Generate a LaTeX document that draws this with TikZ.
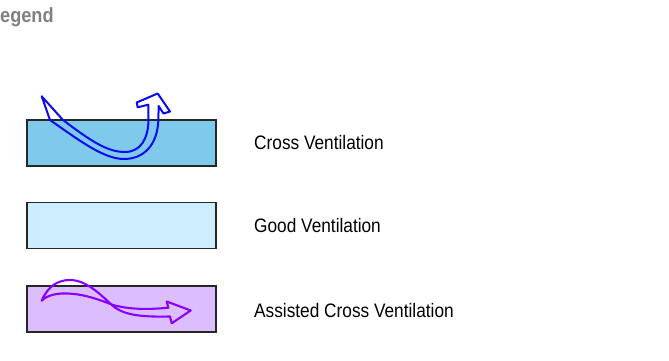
\documentclass[tikz,border=0pt]{standalone}
\usepackage{fontspec}
\setmainfont{Liberation Sans}
\newfontfamily\lblfont[FakeStretch=0.885]{Liberation Sans}
\begin{document}
\begin{tikzpicture}[x=1pt,y=-1pt,
  legbox/.style={draw=black!85, line width=1.3pt, minimum width=189pt, minimum height=46pt, inner sep=0pt},
  lbl/.style={anchor=base west, inner sep=0pt, font=\lblfont\fontsize{19.5}{22}\selectfont, text=black},
  bluearrow/.style={draw={rgb,255:red,10;green,10;blue,240}, line width=2pt, line join=round},
  purplearrow/.style={draw={rgb,255:red,136;green,0;blue,255}, line width=2.1pt, line join=round, line cap=round}]
\definecolor{crossfill}{RGB}{127,201,236}
\definecolor{goodfill}{RGB}{204,238,255}
\definecolor{assistfill}{RGB}{220,190,255}
\useasboundingbox (0,0) rectangle (669,361);
% title
\node[anchor=base west, inner sep=0pt, font=\lblfont\bfseries\fontsize{20.5}{22}\selectfont, text=black!50] (title) at (0,22.7) {egend};
% boxes
\node[legbox, fill=crossfill] (b1) at (121.5,143) {};
\node[legbox, fill=goodfill] (b2) at (121.5,225.8) {};
\node[legbox, fill=assistfill] (b3) at (121.5,309) {};
% labels
\node[lbl] (l1) at (254,149.7) {Cross Ventilation};
\node[lbl] (l2) at (254,232.7) {Good Ventilation};
\node[lbl] (l3) at (254,317.7) {Assisted Cross Ventilation};
% cross ventilation arrow
\draw[bluearrow] (41.7,96.3) -- (63,120)
  .. controls (92,142) and (108,152) .. (125,152)
  .. controls (141,152) and (148.5,138) .. (148.5,119)
  -- (148.3,104.7) -- (137.7,107.3) -- (136.7,102.5) -- (157.7,93.5) -- (170,111.5) -- (163.5,113.5) -- (158.6,106)
  -- (158.4,119.5)
  .. controls (157.5,146) and (143,159) .. (124,159)
  .. controls (104,159) and (80,141) .. (50,120) -- cycle;
% assisted cross ventilation arrow
\draw[purplearrow] (41.7,300.7)
  .. controls (48,286) and (58,280) .. (70,280)
  .. controls (86,280) and (100,294) .. (113,306)
  .. controls (125,316) and (145,317) .. (170,316.5)
  -- (171.7,323.3) -- (190.7,310.5) -- (166.7,301.5) -- (168.3,307.7)
  .. controls (145,310) and (128,309) .. (113,305)
  .. controls (95,298) and (80,293) .. (62,293.5)
  .. controls (52,294) and (45,297) .. (41.7,300.7);
\end{tikzpicture}
\end{document}
